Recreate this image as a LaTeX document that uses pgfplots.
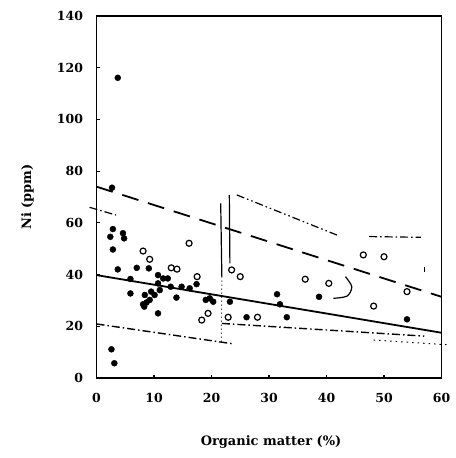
\documentclass[border=0pt]{standalone}
\usepackage{fontspec}
\setmainfont{DejaVu Serif}
\usepackage{pgfplots}
\pgfplotsset{compat=1.18}
\begin{document}
\begin{tikzpicture}
\path[use as bounding box] (0,0) rectangle (456bp,458bp);
\begin{axis}[
  at={(96.5bp,80bp)}, anchor=south west,
  scale only axis,
  width=345bp, height=362bp,
  xmin=0, xmax=60, ymin=0, ymax=140,
  xtick={0,10,...,60}, ytick={0,20,...,140},
  tick align=inside, major tick length=3bp,
  xtick pos=left, ytick pos=left,
  axis line style={line width=1.6bp},
  every tick/.style={black, line width=1.2bp},
  /pgf/number format/assume math mode=true,
  ticklabel style={font=\fontsize{12.5}{15}\selectfont\bfseries},
  yticklabel style={xshift=-10bp},
  xticklabel style={yshift=-12bp},
  xlabel={Organic matter (\%)},
  ylabel={Ni (ppm)},
  label style={font=\fontsize{13}{15}\selectfont\bfseries},
  xlabel style={at={(axis description cs:0.506,-0.177)}, anchor=center},
  ylabel style={at={(axis description cs:-0.2,0.5)}, anchor=center, rotate=0},
  clip=false,
]
% regression lines
\addplot[black, line width=1.8bp] coordinates {(0,39.8) (60,17.5)};
\addplot[black, line width=1.8bp, dash pattern=on 17bp off 10bp] coordinates {(0,74) (60,31.4)};
% envelopes
\addplot[black, line width=1.2bp, dash pattern=on 8bp off 3bp on 1.5bp off 3bp] coordinates {(-1.2,66) (3.4,63)};
\addplot[black, line width=1.4bp, dash pattern=on 8bp off 3bp on 1.5bp off 3bp] coordinates {(0,20.9) (23.8,13.2)};
\addplot[black, line width=1.2bp] coordinates {(21.6,67.5) (21.8,39.2)};
\addplot[black, line width=1.2bp] coordinates {(23.1,70.8) (23.2,44.3)};
\addplot[black, line width=1bp, dash pattern=on 1bp off 3bp] coordinates {(21.8,39.2) (21.7,13.6)};
\addplot[black, line width=1.2bp, dash pattern=on 8bp off 3bp on 1.5bp off 3bp on 1.5bp off 3bp] coordinates {(24.4,70.8) (41.8,55.3)};
\addplot[black, line width=1.2bp, dash pattern=on 8bp off 3bp on 1.5bp off 3bp] coordinates {(47.4,54.7) (56.4,54.4)};
\addplot[black, line width=1.2bp] coordinates {(57,43) (57,41)};
\addplot[black, line width=1.4bp, dash pattern=on 8bp off 3bp on 1.5bp off 3bp] coordinates {(21.8,21.1) (57,16.2)};
\addplot[black, line width=1bp, dash pattern=on 1.5bp off 4bp] coordinates {(48.2,14.7) (61.3,12.8)};
\addplot[black, line width=1.2bp, smooth] coordinates {(43.3,39.2) (44.4,35.3) (43.6,31.7) (41.2,30.8)};
% filled circles
\addplot[only marks, mark=*, mark size=3bp, black] coordinates {
(3.7,116.1) (2.7,73.6) (2.85,57.6) (2.4,54.6) (4.6,56.0) (4.8,54.0) (2.85,49.7)
(3.7,42.0) (7.0,42.6) (9.1,42.4) (5.9,38.3) (10.7,39.8) (11.6,38.5) (12.4,38.5)
(10.7,36.6) (12.9,35.3) (14.8,35.3) (16.2,34.7) (11.0,34.0) (9.5,33.4) (8.4,32.1)
(10.1,32.1) (9.25,30.2) (8.1,28.5) (8.7,29.2) (8.3,27.6) (5.9,32.7) (13.9,31.1) (10.7,25.0)
(17.4,36.3) (19.0,30.2) (19.7,30.8) (20.3,29.5) (23.2,29.5) (26.1,23.5)
(31.4,32.4) (31.9,28.5) (33.1,23.5) (38.7,31.4) (54.0,22.7) (2.6,11.1) (3.1,5.7)
};
% open circles
\addplot[only marks, mark=o, mark size=3bp, black, mark options={line width=1.2bp}] coordinates {
(16.1,52.1) (8.1,49.1) (9.25,45.9) (13.0,42.6) (14.0,42.1) (17.5,39.2)
(23.5,41.8) (25.0,39.2) (18.3,22.4) (19.4,25.0) (22.9,23.5) (28.0,23.5)
(36.3,38.2) (40.4,36.6) (46.4,47.6) (50.0,46.9) (48.2,27.8) (54.0,33.4)
};
\end{axis}
\end{tikzpicture}
\end{document}
